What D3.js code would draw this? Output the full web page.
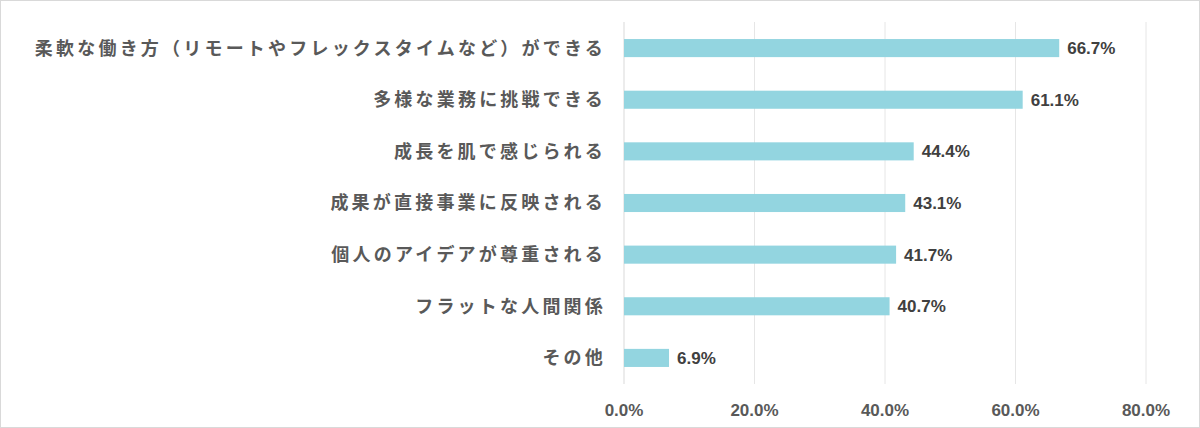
<!DOCTYPE html>
<html><head><meta charset="utf-8">
<script src="https://cdn.jsdelivr.net/npm/d3@7"></script>
<style>body{margin:0;background:#fff}</style>
</head><body>
<svg id="c" width="1200" height="428"></svg>
<script>
const categories=["柔軟な働き方（リモートやフレックスタイムなど）ができる","多様な業務に挑戦できる","成長を肌で感じられる","成果が直接事業に反映される","個人のアイデアが尊重される","フラットな人間関係","その他"];
const values=[66.7,61.1,44.4,43.1,41.7,40.7,6.9];
const ticks=[0,20,40,60,80];
const svg=d3.select("#c");
svg.append("rect").attr("x",0.5).attr("y",0.5).attr("width",1199).attr("height",427).attr("fill","#fff").attr("stroke","#d9d9d9");
const x=d3.scaleLinear().domain([0,80]).range([624,1146]);
const y=d3.scaleBand().domain(categories).range([22,384]).paddingInner(0.65).paddingOuter(0.33);
const font="'Noto Sans CJK JP','Noto Sans',sans-serif";
const latin="'Liberation Sans',Arial,sans-serif";
svg.append("g").selectAll("line").data(ticks).join("line")
 .attr("x1",d=>x(d)).attr("x2",d=>x(d)).attr("y1",22).attr("y2",384)
 .attr("stroke",(d)=>d===0?"#d9d9d9":"#e6e6e6").attr("stroke-width",1);
svg.append("g").selectAll("text").data(ticks).join("text")
 .attr("x",d=>x(d)).attr("y",416).attr("text-anchor","middle")
 .attr("font-family",latin).attr("font-size",17).attr("font-weight","bold").attr("fill","#595959")
 .text(d=>d.toFixed(1)+"%");
svg.append("g").selectAll("rect").data(values).join("rect")
 .attr("x",x(0)).attr("y",(d,i)=>y(categories[i])).attr("height",y.bandwidth())
 .attr("width",d=>x(d)-x(0)).attr("fill","#93d5e0");
svg.append("g").selectAll("text").data(values).join("text")
 .attr("x",d=>x(d)+8).attr("y",(d,i)=>y(categories[i])+y.bandwidth()/2).attr("dy","0.36em")
 .attr("font-family",latin).attr("font-size",17).attr("font-weight","bold").attr("fill","#404040")
 .text(d=>d.toFixed(1)+"%");
svg.append("g").selectAll("text").data(categories).join("text")
 .attr("x",606).attr("y",d=>y(d)+y.bandwidth()/2).attr("dy","0.36em").attr("text-anchor","end")
 .attr("font-family",font).attr("font-size",18).attr("font-weight","bold").attr("fill","#595959")
 .attr("letter-spacing",3.2)
 .text(d=>d);
</script>
</body></html>
